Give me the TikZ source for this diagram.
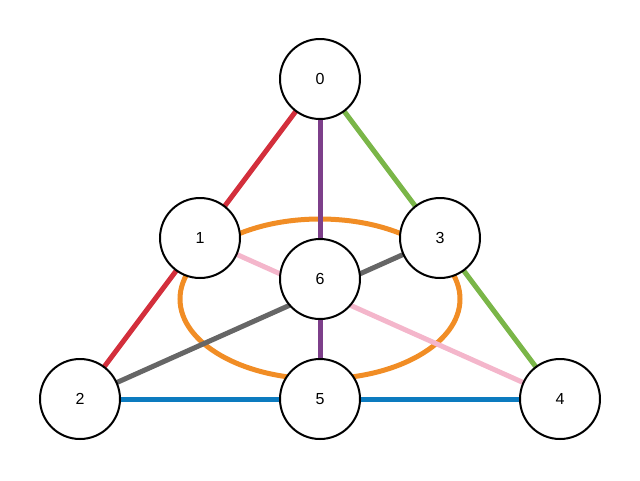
\documentclass[tikz,border=0pt]{standalone}
\usepackage{fontspec}
\setmainfont{Liberation Sans}
\definecolor{cred}{HTML}{D32F3C}
\definecolor{cpurple}{HTML}{7D3F8A}
\definecolor{cgreen}{HTML}{7AB648}
\definecolor{cblue}{HTML}{0C7BBF}
\definecolor{cgray}{HTML}{666666}
\definecolor{cpink}{HTML}{F4B6CB}
\definecolor{corange}{HTML}{F18D25}
\begin{document}
\begin{tikzpicture}[x=0.75pt,y=-0.75pt,
  vtx/.style={circle,draw=black,line width=1.5pt,fill=white,minimum size=60pt,inner sep=0pt,font=\fontsize{12}{14}\selectfont},
  edge/.style={line width=3.75pt}]
\useasboundingbox (0,0) rectangle (640,480);
\coordinate (c0) at (320,79);
\coordinate (c1) at (200,238);
\coordinate (c2) at (80,399);
\coordinate (c3) at (440,238);
\coordinate (c4) at (560,399);
\coordinate (c5) at (320,399);
\coordinate (c6) at (320,279);
\draw[corange,line width=3.75pt] (320,299) ellipse [x radius=105pt, y radius=60pt];
\draw[edge,cred] (c0) -- (c2);
\draw[edge,cpurple] (c0) -- (c5);
\draw[edge,cgreen] (c0) -- (c4);
\draw[edge,cblue] (c2) -- (c4);
\draw[edge,cpink] (c1) -- (c4);
\draw[edge,cgray] (c2) -- (c3);
\node[vtx] (n0) at (c0) {0};
\node[vtx] (n1) at (c1) {1};
\node[vtx] (n2) at (c2) {2};
\node[vtx] (n3) at (c3) {3};
\node[vtx] (n4) at (c4) {4};
\node[vtx] (n5) at (c5) {5};
\node[vtx] (n6) at (c6) {6};
\end{tikzpicture}
\end{document}
